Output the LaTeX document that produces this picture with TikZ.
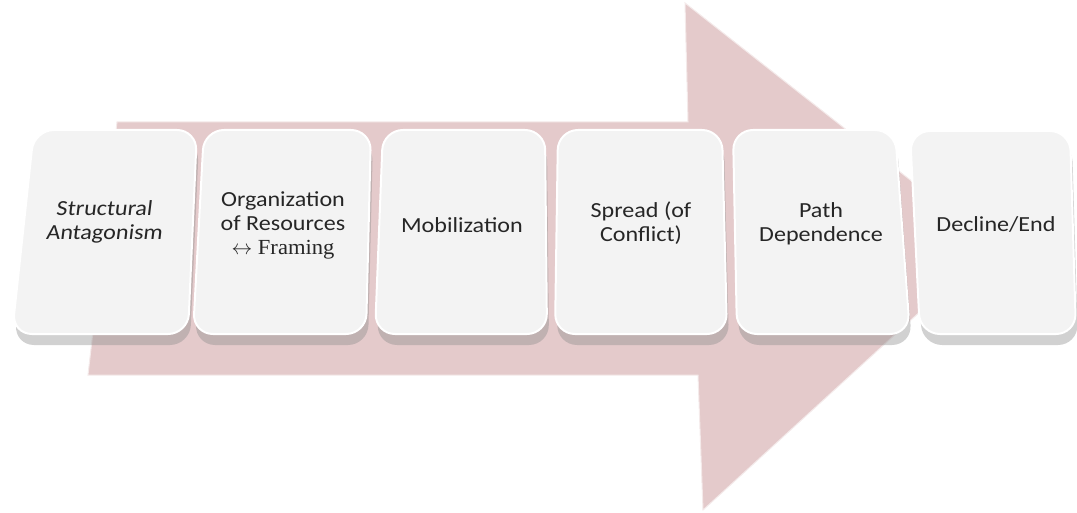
\documentclass[tikz,border=0pt]{standalone}
\usepackage{fontspec}
\setmainfont{Carlito}[FakeStretch=1.12]
\newfontfamily\slantfont{Carlito}[FakeStretch=1.12,FakeSlant=0.12]
\newfontfamily\seriffont{Liberation Serif}[FakeStretch=1.05]
\usetikzlibrary{shadows}
\definecolor{arrowpink}{HTML}{E4CACB}
\definecolor{boxfill}{HTML}{F3F3F3}
\tikzset{
  stagebox/.style={rounded corners=20pt, fill=boxfill, draw=white, line width=2pt,
    drop shadow={shadow xshift=2pt, shadow yshift=-11pt, opacity=0.4, fill=black!45}},
  stagetext/.style={align=center, font=\fontsize{21.5}{24}\selectfont, text=black!85}
}
\begin{document}
\begin{tikzpicture}[x=1pt,y=-1pt]
\useasboundingbox (0,0) rectangle (1077,513);
% big arrow
\fill[arrowpink, draw=white!60!arrowpink, line width=1pt]
  (117,122) -- (688,122) -- (685,3) -- (993,245) -- (703,510) -- (698,375) -- (88,375) -- cycle;
% boxes (slightly skewed, as in perspective)
\path[stagebox] (34,130) -- (197,130) -- (188,334) -- (12,334) -- cycle;
\path[stagebox] (204,130) -- (371,130) -- (366,334) -- (193,334) -- cycle;
\path[stagebox] (383,130) -- (545,130) -- (547,334) -- (375,334) -- cycle;
\path[stagebox] (558,130) -- (722,130) -- (727,334) -- (555,334) -- cycle;
\path[stagebox] (733,130) -- (895,130) -- (910,334) -- (737,334) -- cycle;
\path[stagebox] (910,131) -- (1070,131) -- (1076,334) -- (920,334) -- cycle;
% texts
\node[stagetext, font=\fontsize{21.5}{24}\selectfont\slantfont] (t1) at (104,222) {Structural\\Antagonism};
\node[stagetext] (t2) at (283,225) {Organization\\of Resources\\{\seriffont$\leftrightarrow$ Framing}};
\node[stagetext] (t3) at (462,225) {Mobilization};
\node[stagetext] (t4) at (641,223) {Spread (of\\Conflict)};
\node[stagetext] (t5) at (821,224) {Path\\Dependence};
\node[stagetext] (t6) at (996,224) {Decline/End};
\end{tikzpicture}
\end{document}
